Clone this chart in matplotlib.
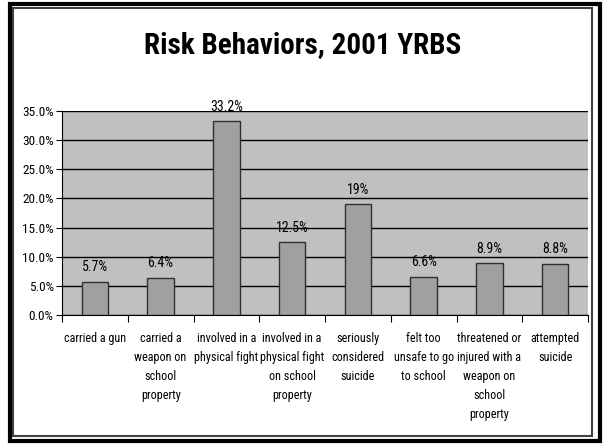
import matplotlib.pyplot as plt
from matplotlib.patches import Rectangle
from matplotlib import font_manager

categories = [
    "carried a gun",
    "carried a\nweapon on\nschool\nproperty",
    "involved in a\nphysical fight",
    "involved in a\nphysical fight\non school\nproperty",
    "seriously\nconsidered\nsuicide",
    "felt too\nunsafe to go\nto school",
    "threatened or\ninjured with a\nweapon on\nschool\nproperty",
    "attempted\nsuicide",
]
values = [5.7, 6.4, 33.2, 12.5, 19.0, 6.6, 8.9, 8.8]
value_labels = ["5.7%", "6.4%", "33.2%", "12.5%", "19%", "6.6%", "8.9%", "8.8%"]
yticks = [0, 5, 10, 15, 20, 25, 30, 35]

# Arial Narrow look-alike
names = {f.name for f in font_manager.fontManager.ttflist}
wanted = ["Liberation Sans Narrow", "Arial Narrow", "Roboto Condensed", "Archivo Narrow",
          "PT Sans Narrow", "Sofia Sans Condensed", "Liberation Sans"]
narrow = next(n for n in wanted if n in names)
plt.rcParams["font.family"] = [narrow, "DejaVu Sans"]

W, H = 605, 444
fig = plt.figure(figsize=(W / 100, H / 100), dpi=100)

# double frame
fig.patches.append(Rectangle((9.5 / W, 1 - 441 / H), 590 / W, 437 / H, transform=fig.transFigure,
                             fill=False, edgecolor="black", linewidth=3))
fig.patches.append(Rectangle((13 / W, 1 - 436 / H), 579 / W, 428 / H, transform=fig.transFigure,
                             fill=False, edgecolor="#404040", linewidth=1.5))

left, right, top, bottom = 62, 588, 111, 315
ax = fig.add_axes([left / W, 1 - bottom / H, (right - left) / W, (bottom - top) / H])
ax.set_facecolor("#c0c0c0")

x = range(len(values))
ax.bar(x, values, width=0.4, color="#a0a0a0", edgecolor="#303030", linewidth=1, zorder=3)
for i, (v, lab) in enumerate(zip(values, value_labels)):
    ax.text(i, v + 1.3, lab, ha="center", va="bottom", fontsize=10)

ax.set_xlim(-0.5, len(values) - 0.5)
ax.set_ylim(0, 35)
ax.set_yticks(yticks)
ax.set_yticklabels([f"{t:.1f}%" for t in yticks], fontsize=9.5)
ax.yaxis.grid(True, color="black", linewidth=1, zorder=1)
ax.set_axisbelow(True)

ax.set_xticks([i + 0.5 for i in range(-1, len(values))])
ax.set_xticklabels([])
ax.set_xticks(list(x), minor=True)
ax.set_xticklabels(categories, minor=True, fontsize=8.7, linespacing=1.6, va="top")
ax.tick_params(axis="x", which="minor", length=0, pad=12)
ax.tick_params(axis="x", which="major", length=5, direction="out")
ax.tick_params(axis="y", length=4, direction="out", pad=2)

for s in ["top", "right"]:
    ax.spines[s].set_visible(False)

fig.text(0.5, 1 - 45 / H, "Risk Behaviors, 2001 YRBS", ha="center", va="center",
         fontsize=21, fontweight="bold")

fig.savefig("out.png", dpi=100)
